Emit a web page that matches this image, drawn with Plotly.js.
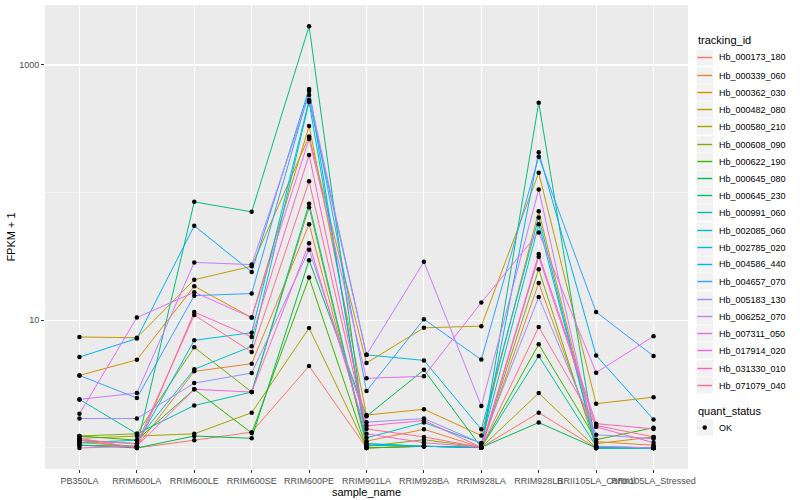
<!DOCTYPE html>
<html>
<head>
<meta charset="utf-8">
<script src="https://cdn.plot.ly/plotly-3.0.1.min.js"></script>
<style>html,body{margin:0;padding:0;background:#fff;}#chart{width:800px;height:500px;}</style>
</head>
<body>
<div id="chart"></div>
<script>
// x categories
const sample_names = ["PB350LA","RRIM600LA","RRIM600LE","RRIM600SE","RRIM600PE","RRIM901LA","RRIM928BA","RRIM928LA","RRIM928LB","RRII105LA_Control","RRII105LA_Stressed"];

// FPKM + 1 per tracking_id, in sample_names order
const Hb_000173_180 = [1.15, 1.00, 1.15, 1.33, 4.38, 1.00, 1.03, 1.01, 1.89, 1.00, 1.00];
const Hb_000339_060 = [1.10, 1.03, 3.98, 4.57, 56.6, 1.13, 1.40, 1.01, 19.6, 1.12, 1.05];
const Hb_000362_030 = [3.70, 4.90, 18.5, 10.5, 332, 1.81, 2.01, 1.25, 71.6, 1.08, 1.22];
const Hb_000482_080 = [7.40, 7.30, 20.8, 26.5, 275, 4.63, 8.73, 9.00, 143, 2.22, 2.50];
const Hb_000580_210 = [1.19, 1.24, 1.29, 1.89, 8.70, 1.00, 1.03, 1.01, 2.69, 1.00, 1.00];
const Hb_000608_090 = [1.24, 1.29, 6.14, 2.74, 77.0, 1.03, 1.16, 1.01, 25.1, 1.00, 1.00];
const Hb_000622_190 = [1.24, 1.15, 2.88, 1.31, 21.6, 1.00, 1.03, 1.01, 6.49, 1.16, 1.44];
const Hb_000645_080 = [1.05, 1.00, 1.24, 1.19, 29.6, 1.77, 4.09, 1.01, 1.58, 1.00, 1.00];
const Hb_000645_230 = [1.05, 1.03, 84.7, 70.7, 2012, 1.08, 1.03, 1.01, 506, 1.00, 1.00];
const Hb_000991_060 = [2.40, 1.29, 2.15, 2.74, 82.0, 1.08, 1.03, 1.01, 5.25, 1.03, 1.00];
const Hb_002085_060 = [1.10, 1.15, 4.13, 6.25, 513, 1.20, 1.58, 1.09, 56.6, 1.00, 1.00];
const Hb_002785_020 = [1.15, 1.08, 6.97, 8.00, 531, 5.36, 4.85, 1.40, 63.9, 1.00, 1.00];
const Hb_004586_440 = [5.15, 7.20, 55.0, 23.9, 648, 1.05, 1.03, 1.01, 207, 5.31, 1.67];
const Hb_004657_070 = [3.70, 2.46, 15.6, 16.2, 625, 2.79, 10.2, 4.92, 191, 11.6, 5.25];
const Hb_005183_130 = [1.70, 1.70, 3.22, 3.86, 35.7, 1.59, 1.70, 1.09, 15.2, 1.27, 1.18];
const Hb_006252_070 = [2.40, 2.69, 28.4, 27.3, 582, 5.36, 28.7, 2.13, 106, 1.03, 1.00];
const Hb_007311_050 = [1.85, 10.5, 16.6, 10.5, 263, 3.51, 3.64, 13.8, 48.7, 3.89, 7.50];
const Hb_017914_020 = [1.00, 1.03, 2.88, 2.74, 40.2, 1.29, 1.10, 1.01, 31.4, 1.46, 1.10];
const Hb_031330_010 = [1.19, 1.00, 11.6, 7.40, 197, 1.49, 1.64, 1.01, 33.0, 1.55, 1.41];
const Hb_071079_040 = [1.15, 1.08, 11.0, 5.64, 123, 1.41, 1.22, 1.01, 8.86, 1.50, 1.22];

const tracking_ids = ["Hb_000173_180","Hb_000339_060","Hb_000362_030","Hb_000482_080","Hb_000580_210","Hb_000608_090","Hb_000622_190","Hb_000645_080","Hb_000645_230","Hb_000991_060","Hb_002085_060","Hb_002785_020","Hb_004586_440","Hb_004657_070","Hb_005183_130","Hb_006252_070","Hb_007311_050","Hb_017914_020","Hb_031330_010","Hb_071079_040"];
const series_values = [Hb_000173_180,Hb_000339_060,Hb_000362_030,Hb_000482_080,Hb_000580_210,Hb_000608_090,Hb_000622_190,Hb_000645_080,Hb_000645_230,Hb_000991_060,Hb_002085_060,Hb_002785_020,Hb_004586_440,Hb_004657_070,Hb_005183_130,Hb_006252_070,Hb_007311_050,Hb_017914_020,Hb_031330_010,Hb_071079_040];
const quant_status = ["OK"];

const palette = ["#F8766D","#EA8331","#D89000","#C09B00","#A3A500","#7CAE00","#39B600","#00BB4E","#00BF7D","#00C1A3","#00BFC4","#00BAE0","#00B0F6","#35A2FF","#9590FF","#C77CFF","#E76BF3","#FA62DB","#FF62BC","#FF6C91"];

const traces = tracking_ids.map((id, i) => ({
  type: 'scatter', mode: 'lines', name: id,
  x: sample_names, y: series_values[i],
  line: {color: palette[i], width: 1},
  showlegend: false, hoverinfo: 'name+y'
}));

const allX = [], allY = [];
series_values.forEach(v => v.forEach((val, j) => { allX.push(sample_names[j]); allY.push(val); }));
traces.push({
  type: 'scatter', mode: 'markers', name: quant_status[0],
  x: allX, y: allY,
  marker: {color: 'black', size: 4.5},
  showlegend: false
});

// ggplot-style legend drawn in paper space
const M = {l: 45, r: 112, t: 5, b: 31};
const W = 800, H = 500;
const pw = W - M.l - M.r, ph = H - M.t - M.b;
const px = p => (p - M.l) / pw;
const py = p => (H - M.b - p) / ph;

const shapes = [], annotations = [];
const keyX0 = 696.5, keyX1 = 713, keyH = 16.4, step = 17.24;
const lg1Title = 40.5, lg1First = 57.3;
annotations.push({xref: 'paper', yref: 'paper', x: px(695.5), y: py(lg1Title), xanchor: 'left', yanchor: 'middle',
  text: 'tracking_id', showarrow: false, font: {size: 11, color: '#000000'}});
tracking_ids.forEach((id, i) => {
  const cy = Math.round(lg1First + i * step) + 0.5;
  shapes.push({type: 'rect', xref: 'paper', yref: 'paper', x0: px(keyX0), x1: px(keyX1), y0: py(cy - keyH / 2), y1: py(cy + keyH / 2),
    fillcolor: '#F2F2F2', line: {width: 0}, layer: 'above'});
  shapes.push({type: 'line', xref: 'paper', yref: 'paper', x0: px(keyX0 + 0.8), x1: px(keyX1 - 0.8), y0: py(cy), y1: py(cy),
    line: {color: palette[i], width: 1.4}, layer: 'above'});
  annotations.push({xref: 'paper', yref: 'paper', x: px(716.5), y: py(cy), xanchor: 'left', yanchor: 'middle',
    text: id, showarrow: false, font: {size: 9, color: '#000000'}});
});
const lg2Title = 411, lg2First = 427.5;
annotations.push({xref: 'paper', yref: 'paper', x: px(695.5), y: py(lg2Title), xanchor: 'left', yanchor: 'middle',
  text: 'quant_status', showarrow: false, font: {size: 11, color: '#000000'}});
quant_status.forEach((s, i) => {
  const cy = lg2First + i * step;
  shapes.push({type: 'rect', xref: 'paper', yref: 'paper', x0: px(keyX0), x1: px(keyX1), y0: py(cy - keyH / 2), y1: py(cy + keyH / 2),
    fillcolor: '#F2F2F2', line: {width: 0}, layer: 'above'});
  const cx = (keyX0 + keyX1) / 2, r = 2.2;
  shapes.push({type: 'circle', xref: 'paper', yref: 'paper', x0: px(cx - r), x1: px(cx + r), y0: py(cy - r), y1: py(cy + r),
    fillcolor: '#000000', line: {width: 0}, layer: 'above'});
  annotations.push({xref: 'paper', yref: 'paper', x: px(716.5), y: py(cy), xanchor: 'left', yanchor: 'middle',
    text: s, showarrow: false, font: {size: 9, color: '#000000'}});
});

const layout = {
  width: W, height: H,
  margin: M,
  paper_bgcolor: '#FFFFFF', plot_bgcolor: '#EBEBEB',
  font: {family: 'Liberation Sans, Arial, sans-serif', size: 9, color: '#4D4D4D'},
  showlegend: false,
  xaxis: {
    type: 'category', categoryorder: 'array', categoryarray: sample_names,
    range: [-0.6, 10.6], showgrid: true, gridcolor: '#FFFFFF', gridwidth: 1.1,
    zeroline: false, showline: false, ticks: 'outside', ticklen: 3, tickcolor: '#333333', tickwidth: 1,
    tickangle: 0, tickfont: {size: 9, color: '#4D4D4D'},
    title: {text: 'sample_name', font: {size: 11, color: '#000000'}, standoff: 0},
    automargin: false
  },
  yaxis: {
    type: 'log', range: [-0.165, 3.47],
    tickvals: [10, 1000], ticktext: ['10', '1000'],
    showgrid: true, gridcolor: '#FFFFFF', gridwidth: 1.1,
    minor: {tickvals: [1, 100], showgrid: true, gridcolor: '#FFFFFF', gridwidth: 0.5, ticks: ''},
    zeroline: false, showline: false, ticks: 'outside', ticklen: 3, tickcolor: '#333333', tickwidth: 1,
    tickfont: {size: 9, color: '#4D4D4D'},
    title: {text: 'FPKM + 1', font: {size: 11, color: '#000000'}, standoff: 1},
    automargin: false
  },
  shapes: shapes,
  annotations: annotations
};

Plotly.newPlot('chart', traces, layout, {displayModeBar: false, staticPlot: true});
</script>
</body>
</html>
